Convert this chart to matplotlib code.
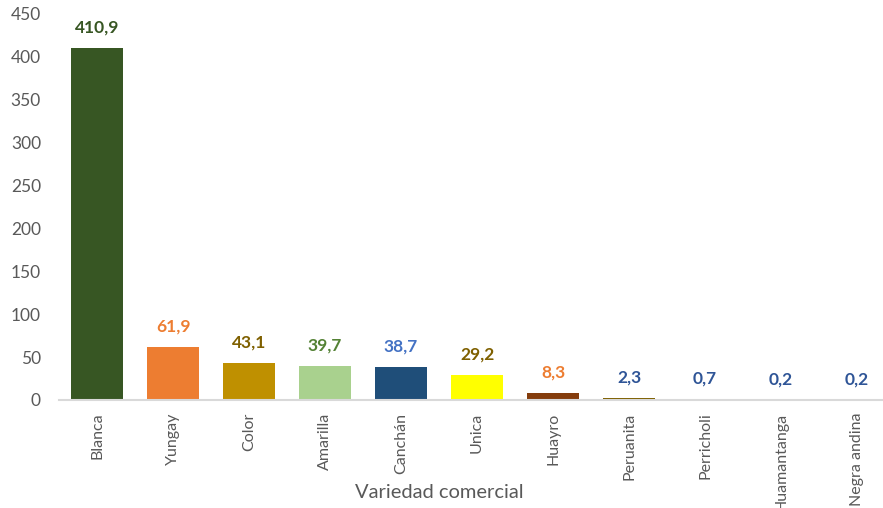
import matplotlib
matplotlib.use("Agg")
import matplotlib.pyplot as plt

categories = ["Blanca", "Yungay", "Color", "Amarilla", "Canchán", "Unica", "Huayro",
              "Peruanita", "Perricholi", "Huamantanga", "Negra andina"]
values = [410.9, 61.9, 43.1, 39.7, 38.7, 29.2, 8.3, 2.3, 0.7, 0.2, 0.2]
value_labels = ["410,9", "61,9", "43,1", "39,7", "38,7", "29,2", "8,3", "2,3", "0,7", "0,2", "0,2"]
yticks = [0, 50, 100, 150, 200, 250, 300, 350, 400, 450]

bar_colors = ["#375623", "#ED7D31", "#BF9000", "#A9D18E", "#1F4E79", "#FFFF00",
              "#843C0C", "#7F6000", "#2F5597", "#2F5597", "#2F5597"]
label_colors = ["#375623", "#ED7D31", "#7F6000", "#548235", "#4472C4", "#7F6000",
                "#ED7D31", "#2F5597", "#2F5597", "#2F5597", "#2F5597"]

plt.rcParams['font.family'] = ['Lato', 'DejaVu Sans']

fig = plt.figure(figsize=(8.83, 5.08), dpi=100)
ax = fig.add_axes([59/883, 108/508, 1 - 59/883, (400-14)/508])

x = list(range(len(categories)))
ax.bar(x, values, width=0.68, color=bar_colors, zorder=2)
for xi, v, lab, c in zip(x, values, value_labels, label_colors):
    ax.annotate(lab, (xi, v), xytext=(0, 9), textcoords="offset points",
                ha="center", va="bottom", fontsize=12.5, fontweight="bold", color=c)

ax.set_xlim(-0.5, 10.34)
ax.set_ylim(0, 450)
ax.set_yticks(yticks)
ax.set_yticklabels([str(t) for t in yticks], fontsize=12.5, color="#595959")
ax.set_xticks(x)
ax.set_xticklabels(categories, rotation=90, fontsize=11.5, color="#595959")
ax.tick_params(axis="both", length=0)
ax.tick_params(axis="y", pad=13)
ax.tick_params(axis="x", pad=9)
for s in ["top", "right", "left"]:
    ax.spines[s].set_visible(False)
ax.spines["bottom"].set_color("#D9D9D9")
ax.spines["bottom"].set_linewidth(1.5)

fig.text(439/883, 1 - 493/508, "Variedad comercial", ha="center", va="center",
         fontsize=14.5, color="#595959")

fig.savefig("out.png", dpi=100)
